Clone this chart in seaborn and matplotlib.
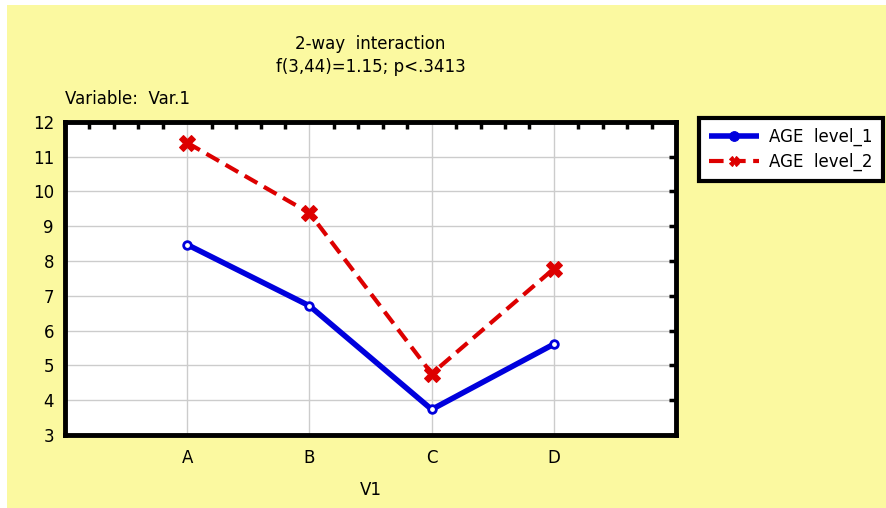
import pandas as pd
import matplotlib
matplotlib.use("Agg")
import matplotlib.pyplot as plt
import seaborn as sns
from matplotlib.patches import Rectangle
from matplotlib.ticker import MultipleLocator

# Data
categories = ["A", "B", "C", "D"]
age_level_1 = [8.47, 6.71, 3.73, 5.61]
age_level_2 = [11.40, 9.38, 4.76, 7.78]
series_names = ["AGE  level_1", "AGE  level_2"]

df = pd.DataFrame({
    "V1": categories * 2,
    "value": age_level_1 + age_level_2,
    "group": [series_names[0]] * 4 + [series_names[1]] * 4,
})

sns.set_style("white")
plt.rcParams["font.family"] = ["DejaVu Sans"]
plt.rcParams["text.color"] = "black"
plt.rcParams["xtick.color"] = "black"
plt.rcParams["ytick.color"] = "black"
plt.rcParams["axes.labelcolor"] = "black"

bg = "#fbf9a0"
blue = "#0000dd"
red = "#dd0000"
fs = 12

fig = plt.figure(figsize=(8.87, 5.08), dpi=100, facecolor="white")
# yellow panel, with the thin white strip at top and left
fig.patches.append(Rectangle((7 / 887, 0), 1, 1 - 5 / 508, transform=fig.transFigure,
                             facecolor=bg, edgecolor="none", zorder=-10))
ax = fig.add_axes([0.0733, 0.144, 0.689, 0.616])
ax.set_facecolor("white")

sns.lineplot(
    data=df, x="V1", y="value", hue="group", style="group",
    palette=[blue, red],
    markers=["o", "X"], dashes=[(1, 0), (3.5, 1.8)],
    markersize=7, ax=ax, legend=True,
)
lines = ax.get_lines()
lines[0].set_linewidth(4)
lines[0].set_markerfacecolor("white")
lines[0].set_markeredgecolor(blue)
lines[0].set_markeredgewidth(2)
lines[0].set_markersize(5.5)
lines[1].set_linewidth(3)
lines[1].set_markerfacecolor(red)
lines[1].set_markeredgecolor(red)
lines[1].set_markersize(11)

ax.set_xlim(-1, 4)
ax.set_ylim(3, 12)
ax.yaxis.set_major_locator(MultipleLocator(1))
ax.xaxis.set_minor_locator(MultipleLocator(0.2))
ax.grid(True, which="major", color="#cccccc", linewidth=1)
ax.set_axisbelow(True)
ax.tick_params(axis="both", which="both", direction="in", top=True, right=True,
               color="black", width=2.5)
ax.tick_params(axis="x", which="major", length=0, pad=10, labelsize=fs)
ax.tick_params(axis="x", which="minor", length=5)
ax.tick_params(axis="y", which="major", length=5, labelsize=fs, pad=8)
for s in ax.spines.values():
    s.set_linewidth(3.5)
    s.set_color("black")

ax.set_xlabel("V1", fontsize=fs, labelpad=10)
ax.set_ylabel("")
ax.set_title("2-way  interaction\nf(3,44)=1.15; p<.3413", fontsize=fs, pad=36,
             linespacing=1.35)
ax.text(0.0, 1.045, "Variable:  Var.1", transform=ax.transAxes, fontsize=fs,
        ha="left", va="bottom")

handles, labels = ax.get_legend_handles_labels()
for h in handles:
    h.set_linewidth(4 if h.get_label() == series_names[0] else 3)
    h.set_markeredgecolor(h.get_color())
leg = ax.legend(handles, labels, loc="upper left", bbox_to_anchor=(1.03, 1.03),
                frameon=True, fancybox=False, shadow=False, fontsize=fs,
                handlelength=3.0, handletextpad=0.6, borderpad=0.6,
                labelspacing=0.4, borderaxespad=0.3,
                edgecolor="black", facecolor="white", framealpha=1)
leg.get_frame().set_linewidth(3)

fig.savefig("out.png", dpi=100)
